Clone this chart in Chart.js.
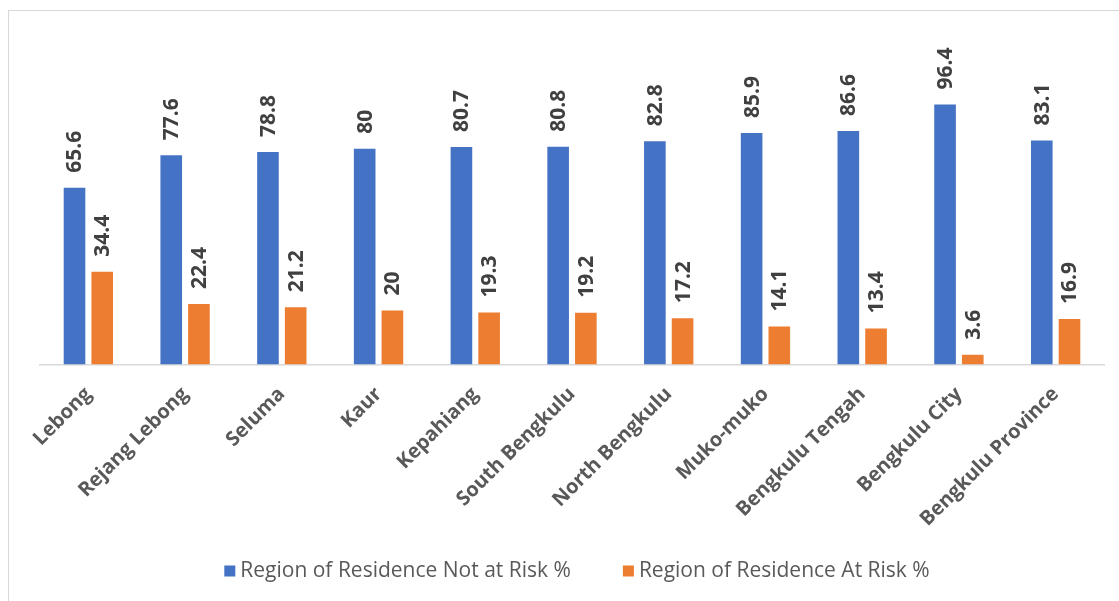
<!DOCTYPE html>
<html>
<head>
<meta charset="utf-8">
<script src="https://cdn.jsdelivr.net/npm/chart.js@4/dist/chart.umd.min.js"></script>
<style>
  html, body { margin: 0; padding: 0; background: #ffffff; overflow: hidden; }
  #wrap { position: relative; width: 1119px; height: 601px; }
  #frame { position: absolute; left: 8px; top: 10px; width: 1300px; height: 800px; border: 1.5px solid #d9d9d9; box-sizing: border-box; }
  #c { position: absolute; left: 0; top: 0; }
</style>
</head>
<body>
<div id="wrap">
  <div id="frame"></div>
  <canvas id="c" width="1119" height="601"></canvas>
</div>
<script>
const categories = ["Lebong", "Rejang Lebong", "Seluma", "Kaur", "Kepahiang", "South Bengkulu", "North Bengkulu", "Muko-muko", "Bengkulu Tengah", "Bengkulu City", "Bengkulu Province"];
const notAtRisk = [65.6, 77.6, 78.8, 80, 80.7, 80.8, 82.8, 85.9, 86.6, 96.4, 83.1];
const atRisk = [34.4, 22.4, 21.2, 20, 19.3, 19.2, 17.2, 14.1, 13.4, 3.6, 16.9];
const seriesNames = ["Region of Residence Not at Risk %", "Region of Residence At Risk %"];

const FONT = "'Open Sans', 'DejaVu Sans', sans-serif";

const valueLabels = {
  id: 'valueLabels',
  afterDatasetsDraw(chart) {
    const ctx = chart.ctx;
    ctx.save();
    ctx.font = "bold 21px " + FONT;
    ctx.fillStyle = '#404040';
    ctx.textAlign = 'left';
    ctx.textBaseline = 'middle';
    chart.data.datasets.forEach((ds, di) => {
      const meta = chart.getDatasetMeta(di);
      meta.data.forEach((bar, i) => {
        ctx.save();
        ctx.translate(bar.x + 1, bar.y - 15);
        ctx.rotate(-Math.PI / 2);
        ctx.fillText(String(ds.data[i]), 0, 0);
        ctx.restore();
      });
    });
    ctx.restore();
  }
};

// Legend drawn below the axis labels (Excel-like spacing)
const bottomLegend = {
  id: 'bottomLegend',
  afterDraw(chart) {
    const ctx = chart.ctx;
    const box = 11, boxGap = 5, itemGap = 52, centerX = 577, centerY = 571;
    ctx.save();
    ctx.font = "21px " + FONT;
    ctx.textBaseline = 'middle';
    ctx.textAlign = 'left';
    const items = chart.data.datasets.map(ds => ({ text: ds.label, color: ds.backgroundColor, w: ctx.measureText(ds.label).width }));
    let total = 0;
    items.forEach((it, i) => { total += box + boxGap + it.w + (i < items.length - 1 ? itemGap : 0); });
    let x = centerX - total / 2;
    items.forEach(it => {
      ctx.fillStyle = it.color;
      ctx.fillRect(x, centerY - box / 2, box, box);
      x += box + boxGap;
      ctx.fillStyle = '#595959';
      ctx.fillText(it.text, x, centerY);
      x += it.w + itemGap;
    });
    ctx.restore();
  }
};

new Chart(document.getElementById('c'), {
  type: 'bar',
  data: {
    labels: categories,
    datasets: [
      { label: seriesNames[0], data: notAtRisk, backgroundColor: '#4472C4', categoryPercentage: 0.573, barPercentage: 0.78 },
      { label: seriesNames[1], data: atRisk, backgroundColor: '#ED7D31', categoryPercentage: 0.573, barPercentage: 0.78 }
    ]
  },
  options: {
    responsive: false,
    animation: false,
    layout: { padding: { left: 40, right: 15, top: 41, bottom: 0 } },
    plugins: {
      legend: { display: false },
      tooltip: { enabled: false }
    },
    scales: {
      x: {
        grid: { display: false },
        border: { display: true, color: '#d9d9d9', width: 1.5 },
        ticks: {
          minRotation: 45, maxRotation: 45, autoSkip: false, padding: 10,
          color: '#595959',
          font: { family: FONT, size: 20, weight: 'bold' }
        },
        afterFit(scale) { scale.height = 236.5; }
      },
      y: {
        display: false,
        min: 0, max: 120
      }
    }
  },
  plugins: [valueLabels, bottomLegend]
});
</script>
</body>
</html>
